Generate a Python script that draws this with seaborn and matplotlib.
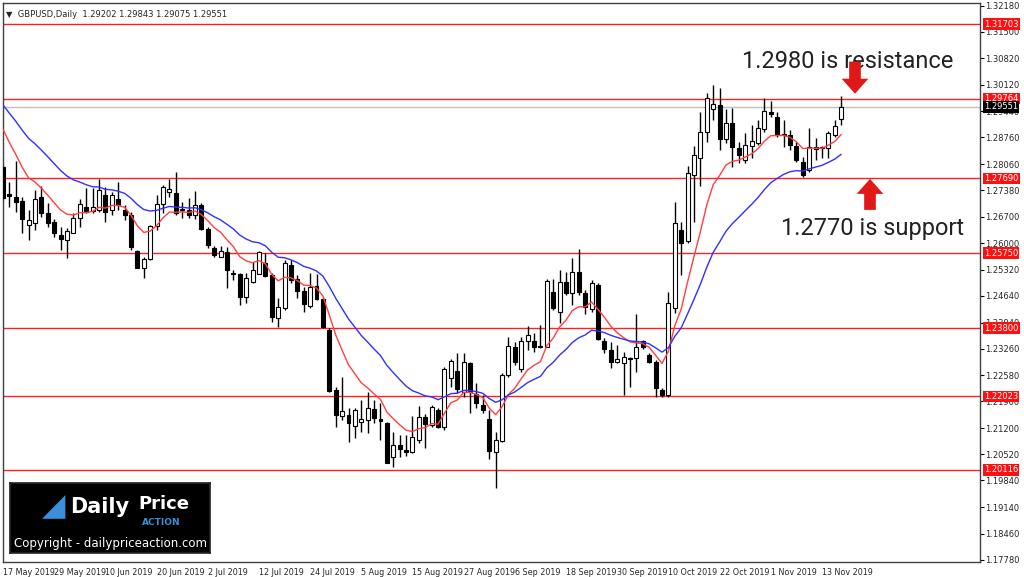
import matplotlib
matplotlib.use("Agg")
import matplotlib.pyplot as plt
import matplotlib.transforms as mtransforms
import numpy as np
import pandas as pd
import seaborn as sns

# Daily GBPUSD candles, 17 May 2019 .. 19 Nov 2019
opens = [1.2799, 1.2729, 1.2721, 1.2710, 1.2648, 1.2653, 1.2721, 1.2679, 1.2656, 1.2622,
         1.2609, 1.2627, 1.2666, 1.2695, 1.2684, 1.2687, 1.2726, 1.2687, 1.2716, 1.2687,
         1.2674, 1.2580, 1.2536, 1.2560, 1.2645, 1.2703, 1.2734, 1.2731, 1.2690, 1.2687,
         1.2674, 1.2700, 1.2638, 1.2588, 1.2565, 1.2578, 1.2523, 1.2521, 1.2461, 1.2500,
         1.2521, 1.2549, 1.2518, 1.2406, 1.2432, 1.2544, 1.2508, 1.2476, 1.2437, 1.2489,
         1.2456, 1.2375, 1.2219, 1.2151, 1.2154, 1.2125, 1.2136, 1.2141, 1.2170, 1.2144,
         1.2133, 1.2045, 1.2076, 1.2063, 1.2058, 1.2089, 1.2149, 1.2128, 1.2167, 1.2123,
         1.2250, 1.2269, 1.2214, 1.2289, 1.2209, 1.2180, 1.2144, 1.2058, 1.2086, 1.2258,
         1.2331, 1.2274, 1.2346, 1.2346, 1.2333, 1.2331, 1.2474, 1.2422, 1.2500, 1.2471,
         1.2526, 1.2471, 1.2430, 1.2492, 1.2346, 1.2323, 1.2292, 1.2289, 1.2302, 1.2302,
         1.2346, 1.2310, 1.2292, 1.2219, 1.2206, 1.2432, 1.2635, 1.2606, 1.2778, 1.2822,
         1.2890, 1.2950, 1.2960, 1.2872, 1.2913, 1.2848, 1.2817, 1.2853, 1.2861, 1.2898,
         1.2942, 1.2929, 1.2885, 1.2882, 1.2853, 1.2812, 1.2791, 1.2851, 1.2851, 1.2848,
         1.2882, 1.2924]
highs = [1.2804, 1.2760, 1.2814, 1.2721, 1.2687, 1.2739, 1.2749, 1.2705, 1.2664, 1.2643,
         1.2640, 1.2679, 1.2716, 1.2744, 1.2744, 1.2768, 1.2747, 1.2734, 1.2760, 1.2700,
         1.2682, 1.2583, 1.2565, 1.2648, 1.2726, 1.2752, 1.2768, 1.2786, 1.2708, 1.2718,
         1.2736, 1.2705, 1.2643, 1.2593, 1.2593, 1.2591, 1.2531, 1.2523, 1.2523, 1.2552,
         1.2580, 1.2575, 1.2523, 1.2458, 1.2557, 1.2557, 1.2518, 1.2487, 1.2523, 1.2521,
         1.2461, 1.2380, 1.2227, 1.2253, 1.2172, 1.2172, 1.2193, 1.2214, 1.2193, 1.2185,
         1.2136, 1.2110, 1.2102, 1.2102, 1.2151, 1.2177, 1.2157, 1.2180, 1.2172, 1.2279,
         1.2300, 1.2315, 1.2315, 1.2292, 1.2237, 1.2206, 1.2167, 1.2110, 1.2263, 1.2357,
         1.2344, 1.2357, 1.2385, 1.2367, 1.2388, 1.2508, 1.2508, 1.2531, 1.2526, 1.2562,
         1.2586, 1.2479, 1.2505, 1.2497, 1.2354, 1.2344, 1.2336, 1.2318, 1.2305, 1.2417,
         1.2349, 1.2315, 1.2297, 1.2224, 1.2474, 1.2708, 1.2656, 1.2801, 1.2853, 1.2942,
         1.2991, 1.3012, 1.3004, 1.2950, 1.2952, 1.2864, 1.2887, 1.2908, 1.2921, 1.2978,
         1.2970, 1.2942, 1.2921, 1.2895, 1.2864, 1.2825, 1.2900, 1.2874, 1.2853, 1.2893,
         1.2921, 1.2983]
lows = [1.2713, 1.2695, 1.2682, 1.2627, 1.2609, 1.2635, 1.2669, 1.2643, 1.2617, 1.2583,
        1.2562, 1.2627, 1.2643, 1.2679, 1.2679, 1.2682, 1.2656, 1.2674, 1.2687, 1.2661,
        1.2583, 1.2536, 1.2510, 1.2557, 1.2635, 1.2679, 1.2721, 1.2674, 1.2666, 1.2666,
        1.2664, 1.2635, 1.2588, 1.2565, 1.2565, 1.2484, 1.2505, 1.2440, 1.2445, 1.2497,
        1.2521, 1.2513, 1.2396, 1.2383, 1.2427, 1.2497, 1.2458, 1.2422, 1.2432, 1.2453,
        1.2380, 1.2214, 1.2123, 1.2141, 1.2084, 1.2094, 1.2110, 1.2107, 1.2133, 1.2089,
        1.2029, 1.2019, 1.2045, 1.2047, 1.2055, 1.2081, 1.2068, 1.2123, 1.2120, 1.2115,
        1.2227, 1.2211, 1.2201, 1.2159, 1.2172, 1.2159, 1.2040, 1.1964, 1.2084, 1.2253,
        1.2284, 1.2266, 1.2323, 1.2318, 1.2328, 1.2331, 1.2427, 1.2393, 1.2466, 1.2440,
        1.2466, 1.2417, 1.2422, 1.2349, 1.2315, 1.2276, 1.2289, 1.2206, 1.2227, 1.2266,
        1.2326, 1.2289, 1.2201, 1.2201, 1.2201, 1.2419, 1.2518, 1.2601, 1.2656, 1.2749,
        1.2864, 1.2921, 1.2843, 1.2861, 1.2799, 1.2809, 1.2809, 1.2822, 1.2856, 1.2890,
        1.2929, 1.2877, 1.2851, 1.2843, 1.2812, 1.2773, 1.2786, 1.2817, 1.2822, 1.2822,
        1.2877, 1.2908]
closes = [1.2718, 1.2723, 1.2708, 1.2664, 1.2661, 1.2716, 1.2679, 1.2653, 1.2627, 1.2612,
          1.2632, 1.2666, 1.2703, 1.2682, 1.2695, 1.2739, 1.2682, 1.2726, 1.2700, 1.2674,
          1.2591, 1.2536, 1.2560, 1.2645, 1.2703, 1.2747, 1.2742, 1.2679, 1.2687, 1.2674,
          1.2700, 1.2638, 1.2596, 1.2570, 1.2580, 1.2531, 1.2521, 1.2461, 1.2510, 1.2531,
          1.2578, 1.2515, 1.2409, 1.2435, 1.2549, 1.2505, 1.2476, 1.2443, 1.2487, 1.2456,
          1.2383, 1.2217, 1.2154, 1.2164, 1.2133, 1.2167, 1.2144, 1.2172, 1.2146, 1.2138,
          1.2029, 1.2076, 1.2066, 1.2058, 1.2097, 1.2149, 1.2131, 1.2175, 1.2123, 1.2274,
          1.2294, 1.2222, 1.2292, 1.2214, 1.2185, 1.2167, 1.2061, 1.2089, 1.2258, 1.2333,
          1.2292, 1.2346, 1.2362, 1.2331, 1.2331, 1.2502, 1.2432, 1.2500, 1.2471, 1.2526,
          1.2474, 1.2435, 1.2497, 1.2352, 1.2326, 1.2292, 1.2300, 1.2305, 1.2300, 1.2331,
          1.2331, 1.2292, 1.2225, 1.2206, 1.2445, 1.2653, 1.2601, 1.2783, 1.2830, 1.2890,
          1.2978, 1.2963, 1.2872, 1.2913, 1.2851, 1.2830, 1.2856, 1.2866, 1.2900, 1.2944,
          1.2937, 1.2882, 1.2882, 1.2856, 1.2817, 1.2778, 1.2851, 1.2846, 1.2848, 1.2887,
          1.2905, 1.2955]

fast_period, fast_start = 9, 1.2897
slow_period, slow_start = 21, 1.2960

date_labels = ["17 May 2019", "29 May 2019", "10 Jun 2019", "20 Jun 2019", "2 Jul 2019",
               "12 Jul 2019", "24 Jul 2019", "5 Aug 2019", "15 Aug 2019", "27 Aug 2019",
               "6 Sep 2019", "18 Sep 2019", "30 Sep 2019", "10 Oct 2019", "22 Oct 2019",
               "1 Nov 2019", "13 Nov 2019"]
price_ticks = [1.32180, 1.31500, 1.30820, 1.30120, 1.29440, 1.28760, 1.28060, 1.27380,
               1.26700, 1.26000, 1.25320, 1.24640, 1.23940, 1.23260, 1.22580, 1.21900,
               1.21200, 1.20520, 1.19840, 1.19140, 1.18460, 1.17780]
levels = [1.31703, 1.29764, 1.27690, 1.25750, 1.23800, 1.22023, 1.20116]
last_price = 1.29551


def ema(values, period, start):
    out = [start]
    k = 2 / (period + 1)
    for v in values[1:]:
        out.append(out[-1] + k * (v - out[-1]))
    return out


df = pd.DataFrame({"open": opens, "high": highs, "low": lows, "close": closes})
df["idx"] = np.arange(len(df))
df["fast"] = ema(closes, fast_period, fast_start)
df["slow"] = ema(closes, slow_period, slow_start)

sns.set_theme(style="white")
plt.rcParams["font.family"] = ["DejaVu Sans"]

fig = plt.figure(figsize=(10.24, 5.77), dpi=100)
ax = fig.add_axes([3 / 1024, 1 - 562 / 577, 977 / 1024, 559 / 577])

for lv in levels:
    ax.axhline(lv, color="#ff2020", linewidth=1, zorder=1)
ax.axhline(last_price, color="#c0c0c0", linewidth=1, zorder=1)

ax.vlines(df["idx"], df["low"], df["high"], color="black", linewidth=1, zorder=2)
up = df["close"] >= df["open"]
body_bottom = np.minimum(df["open"], df["close"])
body_h = np.maximum((df["close"] - df["open"]).abs(), 0.00012)
ax.bar(df["idx"][up], body_h[up], bottom=body_bottom[up], width=0.62,
       color="white", edgecolor="black", linewidth=0.8, zorder=3)
ax.bar(df["idx"][~up], body_h[~up], bottom=body_bottom[~up], width=0.62,
       color="black", edgecolor="black", linewidth=0.8, zorder=3)

sns.lineplot(data=df, x="idx", y="fast", color="#ff4040", linewidth=1, ax=ax, zorder=4)
sns.lineplot(data=df, x="idx", y="slow", color="#3030ff", linewidth=1, ax=ax, zorder=4)

ax.set_xlim(0, 152.7)
ax.set_ylim(1.1772, 1.3225)
ax.set_xlabel("")
ax.set_ylabel("")
ax.yaxis.tick_right()
ax.set_yticks(price_ticks)
ax.set_yticklabels([f"{t:.5f}" for t in price_ticks], fontsize=6)
ax.set_xticks(np.arange(len(date_labels)) * 8)
ax.set_xticklabels(date_labels, fontsize=5.8, ha="left")
ax.tick_params(axis="both", length=3, width=0.8, color="black", pad=1)
for s in ax.spines.values():
    s.set_color("#404040")
    s.set_linewidth(1)

trans = mtransforms.blended_transform_factory(ax.transAxes, ax.transData)
for lv in levels:
    ax.text(1.004, lv, f"{lv:.5f}", transform=trans, fontsize=6, color="white",
            va="center", ha="left", clip_on=False,
            bbox=dict(boxstyle="square,pad=0.15", fc="#ff1010", ec="none"), zorder=6)
ax.text(1.004, last_price, f"{last_price:.5f}", transform=trans, fontsize=6, color="white",
        va="center", ha="left", clip_on=False,
        bbox=dict(boxstyle="square,pad=0.15", fc="black", ec="none"), zorder=6)

ax.text(0.003, 0.987, "\u25bc  GBPUSD,Daily  1.29202 1.29843 1.29075 1.29551",
        transform=ax.transAxes, fontsize=6, va="top", ha="left")

ax.text(739 / 977, 1.2955 + 0.0118, "1.2980 is resistance", transform=trans,
        fontsize=17, color="#222222", family="Roboto", va="center", ha="left")
ax.text(778 / 977, 1.2640, "1.2770 is support", transform=trans,
        fontsize=17, color="#222222", family="Roboto", va="center", ha="left")
ax.annotate("", xy=(852 / 977, 1.2982), xytext=(852 / 977, 1.3080), xycoords=trans,
            arrowprops=dict(arrowstyle="simple,head_width=1.6,head_length=0.9,tail_width=0.7",
                            fc="#e01818", ec="none"))
ax.annotate("", xy=(867 / 977, 1.2775), xytext=(867 / 977, 1.2680), xycoords=trans,
            arrowprops=dict(arrowstyle="simple,head_width=1.6,head_length=0.9,tail_width=0.7",
                            fc="#e01818", ec="none"))

# logo block in the lower left corner
logo = fig.add_axes([10 / 1024, 1 - 553 / 577, 200 / 1024, 70 / 577])
logo.set_facecolor("black")
logo.set_xticks([])
logo.set_yticks([])
logo.text(0.30, 0.66, "Daily", color="white", fontsize=15, fontweight="bold",
          va="center", ha="left", transform=logo.transAxes)
logo.text(0.64, 0.70, "Price", color="white", fontsize=13, fontweight="bold",
          va="center", ha="left", transform=logo.transAxes)
logo.text(0.66, 0.43, "ACTION", color="#3a8fd8", fontsize=6.5, fontweight="bold",
          va="center", ha="left", transform=logo.transAxes)
logo.text(0.22, 0.66, "\u25e2", color="#3a8fd8", fontsize=22, va="center", ha="center",
          transform=logo.transAxes)
logo.text(0.5, 0.13, "Copyright - dailypriceaction.com", color="white", fontsize=8.5,
          va="center", ha="center", transform=logo.transAxes)

fig.savefig("out.png", dpi=100, facecolor="white")
